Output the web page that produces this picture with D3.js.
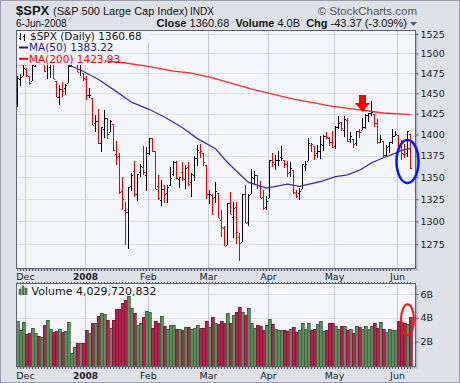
<!DOCTYPE html>
<html><head><meta charset="utf-8">
<script src="https://cdn.jsdelivr.net/npm/d3@7"></script>
<style>
html,body{margin:0;padding:0;background:#dfe1e9;}
svg{display:block;}
</style></head><body>
<svg id="chart" width="460" height="383"></svg>
<script>
// ---------------- data ----------------
const dates = ["2007-11-28","2007-11-29","2007-11-30",
"2007-12-03","2007-12-04","2007-12-05","2007-12-06","2007-12-07","2007-12-10","2007-12-11","2007-12-12","2007-12-13","2007-12-14",
"2007-12-17","2007-12-18","2007-12-19","2007-12-20","2007-12-21","2007-12-24","2007-12-26","2007-12-27","2007-12-28","2007-12-31",
"2008-01-02","2008-01-03","2008-01-04","2008-01-07","2008-01-08","2008-01-09","2008-01-10","2008-01-11","2008-01-14","2008-01-15",
"2008-01-16","2008-01-17","2008-01-18","2008-01-22","2008-01-23","2008-01-24","2008-01-25","2008-01-28","2008-01-29","2008-01-30","2008-01-31",
"2008-02-01","2008-02-04","2008-02-05","2008-02-06","2008-02-07","2008-02-08","2008-02-11","2008-02-12","2008-02-13","2008-02-14",
"2008-02-15","2008-02-19","2008-02-20","2008-02-21","2008-02-22","2008-02-25","2008-02-26","2008-02-27","2008-02-28","2008-02-29",
"2008-03-03","2008-03-04","2008-03-05","2008-03-06","2008-03-07","2008-03-10","2008-03-11","2008-03-12","2008-03-13","2008-03-14",
"2008-03-17","2008-03-18","2008-03-19","2008-03-20","2008-03-24","2008-03-25","2008-03-26","2008-03-27","2008-03-28","2008-03-31",
"2008-04-01","2008-04-02","2008-04-03","2008-04-04","2008-04-07","2008-04-08","2008-04-09","2008-04-10","2008-04-11","2008-04-14",
"2008-04-15","2008-04-16","2008-04-17","2008-04-18","2008-04-21","2008-04-22","2008-04-23","2008-04-24","2008-04-25","2008-04-28",
"2008-04-29","2008-04-30","2008-05-01","2008-05-02","2008-05-05","2008-05-06","2008-05-07","2008-05-08","2008-05-09","2008-05-12",
"2008-05-13","2008-05-14","2008-05-15","2008-05-16","2008-05-19","2008-05-20","2008-05-21","2008-05-22","2008-05-23","2008-05-27",
"2008-05-28","2008-05-29","2008-05-30","2008-06-02","2008-06-03","2008-06-04","2008-06-05","2008-06-06"];

const opens = [1432.9,1467.4,1471.8,
1479.6,1471.3,1465.2,1484.6,1508.6,1505.1,1516.7,1487.6,1483.3,1486.2,
1465.1,1445.9,1454.7,1456.4,1463.2,1484.6,1495.1,1495.1,1479.8,1475.3,
1468.0,1447.6,1444.0,1414.1,1415.7,1390.3,1406.8,1419.9,1402.9,1411.9,
1377.4,1374.8,1333.9,1312.9,1310.4,1340.1,1357.3,1330.7,1355.9,1362.2,1352.0,
1378.6,1395.4,1380.3,1339.5,1324.0,1336.9,1331.9,1340.6,1353.1,1367.3,
1347.5,1355.9,1348.4,1362.2,1344.2,1352.8,1371.8,1379.0,1378.2,1364.1,
1330.5,1329.6,1327.7,1332.2,1301.5,1293.2,1274.4,1321.1,1305.3,1316.1,
1283.2,1277.2,1331.0,1299.7,1330.3,1349.1,1352.5,1340.3,1327.0,1315.9,
1326.4,1370.0,1365.7,1369.9,1373.7,1370.2,1365.5,1355.4,1358.0,1332.2,
1331.7,1337.0,1363.4,1369.0,1387.7,1386.4,1378.4,1380.5,1387.9,1398.0,
1395.6,1391.2,1386.0,1409.2,1415.3,1405.6,1417.5,1394.3,1394.9,1389.4,
1404.4,1405.7,1408.4,1423.9,1425.3,1424.5,1414.1,1390.8,1392.2,1376.0,
1386.5,1390.5,1398.4,1399.6,1386.4,1376.3,1377.5,1400.1];

const highs = [1471.6,1473.8,1488.9,
1481.2,1471.3,1486.1,1508.0,1510.6,1518.3,1523.6,1512.0,1489.4,1486.7,
1465.1,1460.2,1464.4,1461.5,1485.4,1497.6,1498.9,1495.1,1488.0,1475.8,
1471.8,1456.8,1444.0,1423.9,1430.3,1409.2,1429.1,1419.9,1417.9,1411.9,
1392.0,1377.7,1350.3,1322.1,1339.1,1355.2,1368.6,1354.0,1364.9,1385.9,1385.6,
1396.0,1395.4,1380.3,1352.0,1347.2,1341.2,1341.4,1362.1,1369.2,1368.2,
1350.0,1367.3,1363.7,1367.9,1354.3,1374.4,1387.3,1388.3,1378.2,1364.1,
1335.1,1331.0,1344.2,1332.2,1313.2,1295.0,1320.7,1333.3,1321.7,1321.5,
1287.5,1330.7,1341.5,1330.7,1359.7,1357.5,1352.5,1345.6,1334.9,1328.5,
1370.2,1378.0,1375.7,1380.9,1386.7,1370.2,1368.4,1367.2,1358.0,1335.6,
1337.7,1365.5,1368.6,1395.9,1390.2,1386.4,1387.9,1397.7,1399.1,1402.9,
1397.0,1404.6,1410.1,1422.7,1415.3,1421.6,1419.5,1402.4,1394.9,1404.1,
1406.3,1420.2,1424.4,1425.8,1440.2,1424.5,1419.1,1399.1,1392.2,1387.4,
1391.3,1406.3,1404.5,1399.6,1393.1,1388.2,1404.1,1400.1];

const lows = [1432.9,1458.4,1470.9,
1470.1,1460.7,1465.2,1482.2,1498.1,1505.0,1476.0,1468.2,1469.2,1467.8,
1445.4,1435.7,1445.3,1447.2,1463.2,1484.6,1488.2,1475.9,1471.7,1465.1,
1442.1,1443.7,1411.2,1403.5,1388.3,1378.7,1395.3,1394.8,1402.9,1380.6,
1364.3,1330.7,1312.5,1274.3,1270.1,1334.3,1327.5,1322.3,1350.2,1353.0,1334.1,
1375.9,1379.7,1336.6,1324.3,1316.8,1321.1,1320.3,1339.4,1350.8,1347.3,
1338.1,1345.1,1336.6,1339.3,1327.0,1346.0,1363.3,1372.0,1363.2,1325.4,
1320.0,1307.4,1320.2,1303.4,1282.4,1272.7,1274.4,1307.9,1282.1,1274.9,
1257.0,1277.2,1298.4,1295.2,1330.3,1341.2,1336.4,1325.7,1313.0,1312.8,
1326.4,1361.6,1358.7,1362.8,1369.0,1360.6,1350.0,1350.1,1331.2,1326.2,
1324.4,1337.0,1357.3,1369.0,1379.3,1369.8,1372.2,1371.1,1380.0,1394.4,
1386.7,1384.3,1383.1,1406.3,1404.4,1397.1,1391.2,1389.4,1384.1,1386.2,
1396.3,1405.7,1406.9,1414.4,1421.6,1409.1,1388.8,1390.2,1373.7,1373.1,
1378.2,1388.6,1398.1,1377.9,1370.1,1371.7,1373.1,1359.9];

const closes = [1469.0,1469.7,1481.1,
1472.4,1462.8,1485.0,1507.3,1504.7,1516.0,1477.7,1486.6,1488.4,1468.0,
1445.9,1455.0,1453.0,1460.1,1484.5,1496.5,1497.7,1476.3,1478.5,1468.4,
1447.2,1447.2,1411.6,1416.2,1390.2,1409.1,1420.3,1401.0,1416.3,1381.0,
1373.2,1333.3,1325.2,1310.5,1338.6,1352.1,1330.6,1354.0,1362.3,1355.8,1378.6,
1395.4,1380.8,1336.6,1326.5,1336.9,1331.3,1339.1,1348.9,1367.2,1348.9,
1350.0,1348.8,1360.0,1342.5,1353.1,1371.8,1381.3,1380.0,1367.7,1330.6,
1331.3,1326.8,1333.7,1304.3,1293.4,1273.4,1320.7,1308.8,1315.5,1288.1,
1276.6,1330.7,1298.4,1329.5,1349.9,1353.0,1341.1,1325.8,1315.2,1322.7,
1370.2,1367.5,1369.3,1370.4,1372.5,1365.5,1354.5,1360.6,1332.8,1328.3,
1334.4,1364.7,1365.6,1390.3,1388.2,1375.9,1379.9,1388.8,1397.8,1396.4,
1390.9,1385.6,1409.3,1413.9,1407.5,1418.3,1392.6,1397.7,1388.3,1403.6,
1403.0,1408.7,1423.6,1425.4,1426.6,1413.4,1390.7,1394.4,1375.9,1385.4,
1390.8,1398.3,1400.4,1385.7,1377.7,1377.2,1404.1,1360.68];

// volume in billions of shares
const volumes = [3.75,2.96,3.64,
2.65,2.73,3.13,2.71,2.45,2.37,3.38,3.80,3.05,2.85,
2.93,3.05,2.82,2.88,3.64,1.02,1.53,1.86,1.86,1.86,
2.96,2.73,3.55,3.55,4.17,4.40,4.34,3.83,3.13,3.83,
4.73,4.73,5.24,5.49,5.86,4.82,4.40,3.41,3.55,4.08,4.57,
4.48,3.16,3.75,3.58,4.17,3.30,3.05,3.41,3.36,3.05,
3.05,2.96,3.24,3.20,3.10,3.16,3.41,3.13,3.13,3.75,
3.24,4.08,3.58,3.47,3.75,3.58,4.40,3.55,4.25,4.53,
4.90,4.53,4.25,4.82,3.55,3.18,3.41,3.33,2.99,3.41,
3.89,3.47,3.10,2.99,2.99,2.99,2.90,3.10,3.27,2.85,
2.99,3.55,3.05,3.55,2.99,3.10,3.47,3.72,2.90,2.99,
3.55,3.55,3.33,3.10,3.33,3.33,2.99,3.05,2.77,3.33,
3.27,3.05,3.33,3.10,3.33,3.55,3.18,3.63,3.05,2.85,
3.05,2.99,2.99,3.72,3.65,3.60,3.47,4.029720832];

const ma50Dates = ["2007-11-28","2007-12-10","2007-12-20","2007-12-28","2008-01-08","2008-01-16","2008-01-24","2008-02-01","2008-02-08",
"2008-02-19","2008-02-26","2008-03-05","2008-03-11","2008-03-20","2008-03-31","2008-04-09","2008-04-15","2008-04-24","2008-05-01",
"2008-05-07","2008-05-13","2008-05-19","2008-05-23","2008-05-30","2008-06-03","2008-06-06"];
const ma50Values = [1506,1497,1487,1479,1467,1452,1439,1430,1421,
1408,1395,1383,1367,1344,1337.5,1342,1339.5,1345,1350.5,
1352.7,1358,1366.5,1372.5,1378,1381,1383.22];

const ma200Dates = ["2007-11-28","2007-12-20","2008-01-10","2008-01-22","2008-02-01","2008-02-13","2008-02-22","2008-03-04","2008-03-13",
"2008-03-24","2008-04-02","2008-04-11","2008-04-21","2008-04-30","2008-05-13","2008-05-23","2008-06-06"];
const ma200Values = [1485.5,1487,1490.5,1487.8,1483.3,1477.5,1475,1469,1461.6,
1455,1449,1442.6,1438.8,1433.8,1429.6,1425.8,1423.93];

const priceTicks = [1275,1300,1325,1350,1375,1400,1425,1450,1475,1500,1525];
const volumeTicks = [2e9,4e9,6e9];
const monthStarts = ["2007-12-03","2008-01-02","2008-02-01","2008-03-03","2008-04-01","2008-05-01","2008-06-02"];
const monthLabels = ["Dec","2008","Feb","Mar","Apr","May","Jun"];

// ---------------- drawing ----------------
const svg = d3.select("#chart");
const W = 460, H = 383;
const PL = 16.5, PR = 415.5, PT = 30.5, PB = 268.5;
const VT = 283.5, VB = 366.5;
const PLOT_BG = "#f5f6fa", GRID_H = "#dcdfe7", GRID_V = "#c9ccd6";
const FONT = "'DejaVu Sans', Verdana, sans-serif";
const HFONT = "'Liberation Sans', Arial, sans-serif";

svg.append("rect").attr("width", W).attr("height", H).attr("fill", "#dfe1e9");
svg.append("rect").attr("x", 0.5).attr("y", 0.5).attr("width", W - 1).attr("height", H - 1)
  .attr("fill", "none").attr("stroke", "#9a9eb0");

const x = d3.scalePoint().domain(dates).range([17.5, 410.5]);
const y = d3.scaleLog().domain([1249.5, 1530.2]).range([268, 30]);
const yv = d3.scaleLinear().domain([-0.1e9, 6.9e9]).range([366.7, 283.3]);

// header
const hdr = svg.append("g").attr("font-family", HFONT);
hdr.append("text").attr("x", 16).attr("y", 14.5).attr("font-size", 13).attr("font-weight", "bold")
  .attr("fill", "#111").text("$SPX");
hdr.append("text").attr("x", 53).attr("y", 14.5).attr("font-size", 11).attr("fill", "#111")
  .text("(S&P 500 Large Cap Index)");
hdr.append("text").attr("x", 190).attr("y", 14.5).attr("font-size", 10).attr("fill", "#111").text("INDX");
hdr.append("text").attr("x", 417).attr("y", 14.5).attr("font-size", 11.5).attr("fill", "#555")
  .attr("text-anchor", "end").text("\u00a9 StockCharts.com");
hdr.append("text").attr("x", 16).attr("y", 27).attr("font-size", 10).attr("fill", "#111").text("6-Jun-2008");
const info = hdr.append("text").attr("x", 407).attr("y", 27).attr("font-size", 11).attr("fill", "#111")
  .attr("text-anchor", "end");
[["Close", true], [" 1360.68  ", false], ["Volume", true], [" 4.0B  ", false], ["Chg", true], [" -43.37 (-3.09%)", false]]
  .forEach(([t, b]) => info.append("tspan").attr("font-weight", b ? "bold" : "normal").attr("xml:space", "preserve").text(t));
hdr.append("path").attr("d", "M410,22 L417,22 L413.5,26 Z").attr("fill", "#4a5a9a");

// panels background
function panel(top, bottom) {
  svg.append("rect").attr("x", PL + 2).attr("y", top + 2).attr("width", PR - PL).attr("height", bottom - top)
    .attr("fill", "#b4b7c5");
  svg.append("rect").attr("x", PL).attr("y", top).attr("width", PR - PL).attr("height", bottom - top)
    .attr("fill", PLOT_BG);
}
panel(PT, PB);
panel(VT, VB);

// grid lines
const gp = svg.append("g").attr("shape-rendering", "crispEdges");
gp.selectAll(".hg").data(priceTicks).join("line")
  .attr("x1", PL).attr("x2", PR).attr("y1", d => Math.round(y(d)) + 0.5).attr("y2", d => Math.round(y(d)) + 0.5)
  .attr("stroke", GRID_H);
gp.selectAll(".vg").data(monthStarts).join("line")
  .attr("x1", d => x(d) - 1).attr("x2", d => x(d) - 1).attr("y1", PT).attr("y2", PB).attr("stroke", GRID_V);
gp.selectAll(".hvg").data(volumeTicks).join("line")
  .attr("x1", PL).attr("x2", PR).attr("y1", d => Math.round(yv(d)) + 0.5).attr("y2", d => Math.round(yv(d)) + 0.5)
  .attr("stroke", GRID_H);
gp.selectAll(".vvg").data(monthStarts).join("line")
  .attr("x1", d => x(d) - 1).attr("x2", d => x(d) - 1).attr("y1", VT).attr("y2", VB).attr("stroke", GRID_V);

// price bars
const bars = dates.map((d, i) => ({
  date: d, o: opens[i], h: highs[i], l: lows[i], c: closes[i], v: volumes[i] * 1e9,
  up: i === 0 ? closes[i] >= opens[i] : closes[i] >= closes[i - 1]
}));
const gb = svg.append("g").attr("shape-rendering", "crispEdges");
bars.forEach(b => {
  const cx = x(b.date);
  const col = b.up ? "#000" : "#ee0000";
  const yh = Math.round(y(b.h)), yl = Math.round(y(b.l));
  gb.append("rect").attr("x", cx - 0.5).attr("y", yh).attr("width", 1).attr("height", Math.max(1, yl - yh)).attr("fill", col);
  gb.append("rect").attr("x", cx - 1.5).attr("y", Math.round(y(b.o))).attr("width", 1).attr("height", 1).attr("fill", col);
  gb.append("rect").attr("x", cx + 0.5).attr("y", Math.round(y(b.c))).attr("width", 1).attr("height", 1).attr("fill", col);
});

// moving averages
const line = d3.line().x(d => x(d[0])).y(d => y(d[1]));
svg.append("path").datum(ma200Dates.map((d, i) => [d, ma200Values[i]]))
  .attr("d", line).attr("fill", "none").attr("stroke", "#ff2a2a").attr("stroke-width", 1.3);
svg.append("path").datum(ma50Dates.map((d, i) => [d, ma50Values[i]]))
  .attr("d", line).attr("fill", "none").attr("stroke", "#3535a8").attr("stroke-width", 1.3);

// volume bars
const vb = svg.append("g").attr("shape-rendering", "crispEdges");
vb.selectAll("rect").data(bars).join("rect")
  .attr("x", d => x(d.date) - 1.5).attr("width", 3)
  .attr("y", d => Math.round(yv(d.v))).attr("height", d => Math.round(yv(0)) - Math.round(yv(d.v)))
  .attr("fill", d => d.up ? "#5e8c5e" : "#b42350")
  .attr("stroke", d => d.up ? "#2f552f" : "#6e1230").attr("stroke-width", 0.7);

// legends
const lg = svg.append("g").attr("font-family", FONT).attr("font-size", 10.5);
function legendRow(yb, w) {
  lg.append("rect").attr("x", PL + 0.5).attr("y", yb - 9.5).attr("width", w).attr("height", 11.3).attr("fill", PLOT_BG);
}
legendRow(40.5, 134);
legendRow(51.8, 84);
legendRow(63.1, 88);
lg.append("text").attr("x", 30).attr("y", 40).attr("fill", "#111").text("$SPX (Daily) 1360.68");
lg.append("path").attr("d", "M20,33 V40 M19,38 H20 M20,35 H21 M24,34 V41 M23,36 H24 M24,39 H25")
  .attr("stroke", "#111").attr("stroke-width", 1).attr("fill", "none").attr("shape-rendering", "crispEdges");
lg.append("line").attr("x1", 19).attr("x2", 28).attr("y1", 47.5).attr("y2", 47.5).attr("stroke", "#1c1c99").attr("stroke-width", 2);
lg.append("text").attr("x", 29).attr("y", 51.3).attr("fill", "#1c1c99").text("MA(50) 1383.22");
lg.append("line").attr("x1", 19).attr("x2", 28).attr("y1", 58.8).attr("y2", 58.8).attr("stroke", "#ff0000").attr("stroke-width", 2);
lg.append("text").attr("x", 29).attr("y", 62.6).attr("fill", "#ff0000").text("MA(200) 1423.93");
// volume legend
lg.append("rect").attr("x", PL + 0.5).attr("y", VT + 0.5).attr("width", 143).attr("height", 12).attr("fill", PLOT_BG);
lg.append("path").attr("d", "M19,295 V289 H21 V295 M22,295 V286 H24 V295 M25,295 V288 H27 V295")
  .attr("fill", "#5e8c5e").attr("stroke", "#2f552f").attr("stroke-width", 0.6);
lg.append("text").attr("x", 31.5).attr("y", 295).attr("font-size", 11).attr("fill", "#111").text("Volume 4,029,720,832");

// borders
[[PT, PB], [VT, VB]].forEach(([t, b]) => {
  svg.append("rect").attr("x", PL).attr("y", t).attr("width", PR - PL).attr("height", b - t)
    .attr("fill", "none").attr("stroke", "#5d6173").attr("shape-rendering", "crispEdges");
});

// daily tick marks on panel edges
const tk = svg.append("g").attr("stroke", "#5d6173").attr("shape-rendering", "crispEdges");
[[PB, 2], [VT, -2], [VB, 2]].forEach(([yy, len]) => {
  tk.selectAll(null).data(dates).join("line")
    .attr("x1", d => x(d)).attr("x2", d => x(d)).attr("y1", yy).attr("y2", yy + len);
});

// axes
const ax = svg.append("g").attr("transform", `translate(${PR},0)`)
  .call(d3.axisRight(y).tickValues(priceTicks).tickFormat(d3.format("d")).tickSize(3).tickPadding(2));
const axv = svg.append("g").attr("transform", `translate(${PR},0)`)
  .call(d3.axisRight(yv).tickValues(volumeTicks).tickFormat(d => (d / 1e9) + "B").tickSize(3).tickPadding(2));
[ax, axv].forEach(g => {
  g.select(".domain").remove();
  g.selectAll("line").attr("stroke", "#5d6173");
  g.selectAll("text").attr("font-family", FONT).attr("font-size", 9.5).attr("fill", "#222");
});

// month labels above and below volume panel
[276.5, 375.5].forEach(yy => {
  svg.append("g").selectAll("text").data(monthStarts).join("text")
    .attr("x", d => x(d) - 1).attr("y", yy + 3.5).attr("text-anchor", "middle")
    .attr("font-family", FONT).attr("font-size", (d, i) => i === 1 ? 9 : 9.5)
    .attr("font-weight", (d, i) => i === 1 ? "bold" : "normal").attr("fill", "#222")
    .text((d, i) => monthLabels[i]);
});

// annotations
const ax0 = x("2008-05-14"), ay0 = y(1427);
svg.append("path")
  .attr("d", `M${ax0 - 3.5},${ay0 - 17} h7 v8 h4 l-7.5,9 l-7.5,-9 h4 Z`).attr("fill", "#ff0000");
svg.append("ellipse").attr("cx", x("2008-06-05")).attr("cy", y(1368)).attr("rx", 11).attr("ry", 21.5)
  .attr("fill", "none").attr("stroke", "#0a14ff").attr("stroke-width", 2.5);
svg.append("ellipse").attr("cx", x("2008-06-05")).attr("cy", yv(3.84e9)).attr("rx", 6.5).attr("ry", 15.5)
  .attr("fill", "none").attr("stroke", "#ff1010").attr("stroke-width", 2);
</script>
</body></html>
